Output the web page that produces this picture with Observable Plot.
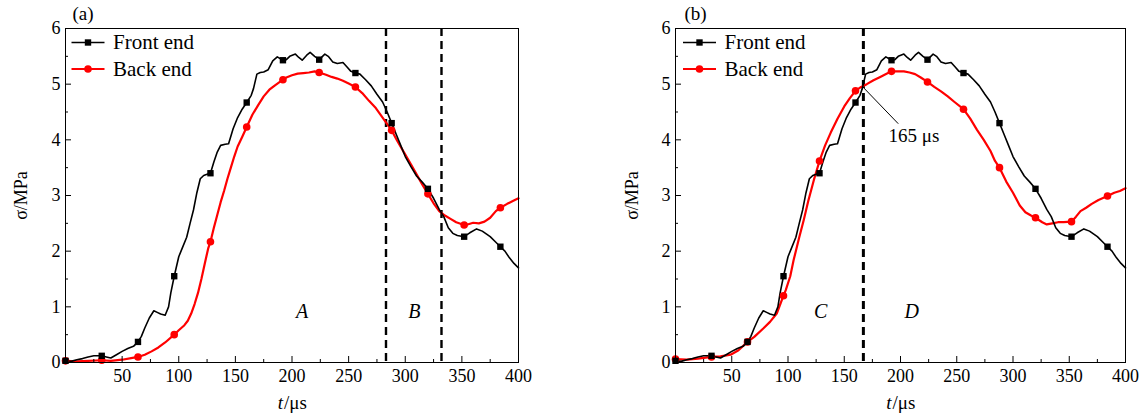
<!DOCTYPE html>
<html><head><meta charset="utf-8">
<script src="https://cdn.jsdelivr.net/npm/d3@7"></script>
<script src="https://cdn.jsdelivr.net/npm/@observablehq/plot@0.6"></script>
<style>
body{margin:0;background:#fff}
#wrap{display:flex;width:1148px;height:414px}
</style>
</head><body><div id="wrap"></div>
<script>
// ---- data: [t (μs), σ (MPa)] ----
const frontEnd = [[0,0.03],[5,0.02],[10,0.05],[15,0.07],[20,0.1],[25,0.12],[32,0.12],[36,0.1],[40,0.08],[45,0.14],[50,0.2],[55,0.25],[60,0.29],[64,0.37],[67,0.47],[70,0.62],[74,0.8],[78,0.93],[81,0.9],[84,0.87],[88,0.85],[91,1.0],[93,1.25],[96,1.55],[100,1.9],[103,2.05],[107,2.25],[110,2.5],[113,2.74],[116,3.05],[119,3.3],[122,3.36],[125,3.38],[128,3.4],[131,3.6],[134,3.78],[137,3.9],[141,3.92],[144,3.93],[148,4.2],[152,4.4],[156,4.55],[160,4.67],[164,4.8],[166,4.92],[169,5.18],[172,5.21],[175,5.22],[179,5.26],[183,5.42],[187,5.49],[192,5.43],[195,5.44],[198,5.5],[203,5.54],[206,5.48],[209,5.43],[213,5.52],[216,5.57],[220,5.5],[224,5.44],[229,5.54],[232,5.5],[236,5.4],[240,5.37],[245,5.39],[249,5.3],[252,5.23],[256,5.2],[260,5.18],[265,5.08],[270,4.97],[275,4.82],[280,4.68],[284,4.5],[288,4.3],[292,4.1],[296,3.9],[300,3.7],[305,3.52],[310,3.35],[315,3.24],[320,3.12],[325,2.95],[330,2.75],[334,2.62],[338,2.42],[342,2.32],[346,2.28],[352,2.26],[357,2.33],[363,2.4],[368,2.36],[375,2.26],[380,2.16],[384,2.08],[388,2.0],[392,1.88],[396,1.78],[400,1.7]];

const backEndA = [[0,0.03],[10,0.02],[20,0.03],[32,0.04],[40,0.03],[50,0.05],[58,0.08],[64,0.1],[70,0.14],[76,0.2],[82,0.27],[88,0.36],[96,0.5],[100,0.58],[105,0.67],[108,0.75],[111,0.88],[114,1.05],[117,1.25],[120,1.5],[123,1.78],[126,2.05],[128,2.17],[131,2.42],[134,2.65],[137,2.88],[140,3.08],[143,3.3],[146,3.5],[149,3.7],[152,3.88],[156,4.05],[160,4.23],[165,4.45],[170,4.62],[175,4.78],[180,4.9],[185,4.98],[192,5.08],[195,5.12],[200,5.16],[205,5.19],[210,5.2],[215,5.21],[220,5.23],[224,5.21],[230,5.17],[235,5.13],[240,5.1],[245,5.06],[250,5.01],[256,4.95],[262,4.84],[268,4.7],[274,4.57],[280,4.4],[288,4.17],[293,3.98],[299,3.77],[305,3.56],[310,3.38],[315,3.2],[320,3.03],[325,2.86],[330,2.72],[335,2.64],[340,2.58],[345,2.52],[352,2.47],[355,2.48],[360,2.51],[365,2.5],[370,2.53],[375,2.6],[380,2.72],[384,2.78],[390,2.85],[395,2.9],[400,2.95]];

const backEndB = [[0,0.06],[10,0.05],[20,0.07],[32,0.1],[40,0.11],[49,0.14],[56,0.22],[64,0.37],[70,0.46],[78,0.61],[84,0.73],[90,0.88],[96,1.2],[98,1.3],[102,1.55],[105,1.84],[110,2.25],[114,2.56],[118,2.9],[123,3.28],[128,3.62],[133,3.9],[138,4.13],[144,4.38],[150,4.6],[155,4.75],[160,4.88],[165,4.95],[170,5.0],[176,5.07],[182,5.13],[188,5.19],[192,5.23],[198,5.23],[203,5.23],[208,5.21],[213,5.18],[218,5.12],[224,5.04],[230,4.95],[236,4.87],[242,4.78],[248,4.68],[256,4.55],[262,4.38],[268,4.18],[274,4.0],[280,3.8],[284,3.62],[288,3.5],[294,3.25],[300,3.05],[306,2.82],[311,2.7],[316,2.64],[320,2.6],[326,2.52],[330,2.48],[335,2.5],[340,2.52],[345,2.52],[352,2.53],[356,2.62],[360,2.72],[365,2.78],[370,2.85],[376,2.92],[384,2.99],[390,3.05],[395,3.08],[400,3.13]];

const markerStep = 32;                 // marker every 32 μs
const xTickLabels = [50,100,150,200,250,300,350,400];
const xMajorTicks = [50,100,150,200,250,300,350];
const xMinorTicks = [25,75,125,175,225,275,325,375];
const yTickLabels = [0,1,2,3,4,5,6];
const yMajorTicks = [1,2,3,4,5];
const yMinorTicks = [0.5,1.5,2.5,3.5,4.5,5.5];
const seriesNames = ["Front end", "Back end"];

const dashesA = [283, 332];
const regionsA = [{t: 209, v: 0.92, label: "A"}, {t: 308, v: 0.92, label: "B"}];
const dashesB = [167];
const regionsB = [{t: 129, v: 0.92, label: "C"}, {t: 210, v: 0.92, label: "D"}];
const annotB = [{t1: 167, v1: 4.94, t2: 198, v2: 4.29, tt: 212, vt: 4.07, label: "165 μs"}];

// ---- drawing ----
const H = 414, MT = 28, MB = 52;
const rows = pairs => pairs.map(([t, v]) => ({t, v}));
const legendLine = {draw(ctx) { ctx.moveTo(-16.5, 0); ctx.lineTo(16.5, 0); }};

function panel(o) {
  const innerW = o.width - o.ml - o.mr, innerH = H - MT - MB;
  const front = rows(frontEnd), back = rows(o.back);
  const isMarker = d => d.t % markerStep === 0;
  return Plot.plot({
    width: o.width, height: H,
    marginLeft: o.ml, marginRight: o.mr, marginTop: MT, marginBottom: MB,
    x: {domain: [0, 400]},
    y: {domain: [0, 6]},
    style: {fontFamily: "'Liberation Serif', 'DejaVu Serif', serif", fontSize: "18px", background: "white", color: "black", overflow: "visible"},
    marks: [
      Plot.ruleX(o.dashes, {stroke: "black", strokeWidth: o.dashW, strokeDasharray: "8,5"}),
      Plot.line(back, {x: "t", y: "v", stroke: "#ff0000", strokeWidth: 2.2}),
      Plot.line(front, {x: "t", y: "v", stroke: "black", strokeWidth: 1.6}),
      Plot.dot(back.filter(isMarker), {x: "t", y: "v", symbol: "circle", r: 3.8, fill: "#ff0000"}),
      Plot.dot(front.filter(isMarker), {x: "t", y: "v", symbol: "square", r: 3.6, fill: "black"}),
      Plot.frame({stroke: "black", strokeWidth: 1}),
      Plot.ruleX(xMajorTicks, {insetTop: innerH - 6, stroke: "black"}),
      Plot.ruleX(xMinorTicks, {insetTop: innerH - 3, stroke: "black"}),
      Plot.ruleY(yMajorTicks, {insetRight: innerW - 6, stroke: "black"}),
      Plot.ruleY(yMinorTicks, {insetRight: innerW - 3, stroke: "black"}),
      Plot.axisX(xTickLabels, {tickSize: 0, tickPadding: 7, fontSize: 18, label: null, tickFormat: d => String(d)}),
      Plot.axisY(yTickLabels, {tickSize: 0, tickPadding: 5, fontSize: 18, label: null, tickFormat: d => String(d)}),
      // axis titles
      Plot.text(["t"], {text: d => d, frameAnchor: "bottom", dy: 40, dx: -9, textAnchor: "end", lineAnchor: "middle", fontStyle: "italic", fontSize: 19}),
      Plot.text(["/μs"], {text: d => d, frameAnchor: "bottom", dy: 40, dx: -8, textAnchor: "start", lineAnchor: "middle", fontSize: 19}),
      Plot.text(["σ/MPa"], {text: d => d, frameAnchor: "left", dx: o.ylabDx, rotate: -90, textAnchor: "middle", lineAnchor: "middle", fontSize: 18}),
      Plot.text([o.tag], {text: d => d, frameAnchor: "top-left", dx: o.tagDx, dy: -15, textAnchor: "start", lineAnchor: "middle", fontSize: 19}),
      // legend
      Plot.dot([0], {frameAnchor: "top-left", dx: o.legDx, dy: 14, symbol: legendLine, stroke: "black", strokeWidth: 1.6, fill: "none"}),
      Plot.dot([0], {frameAnchor: "top-left", dx: o.legDx, dy: 14, symbol: "square", r: 3.6, fill: "black"}),
      Plot.dot([0], {frameAnchor: "top-left", dx: o.legDx, dy: 40.5, symbol: legendLine, stroke: "#ff0000", strokeWidth: 2.2, fill: "none"}),
      Plot.dot([0], {frameAnchor: "top-left", dx: o.legDx, dy: 40.5, symbol: "circle", r: 3.8, fill: "#ff0000"}),
      Plot.text([seriesNames[0]], {text: d => d, frameAnchor: "top-left", dx: o.legDx + 25, dy: 14, textAnchor: "start", lineAnchor: "middle", fontSize: 21}),
      Plot.text([seriesNames[1]], {text: d => d, frameAnchor: "top-left", dx: o.legDx + 25, dy: 40.5, textAnchor: "start", lineAnchor: "middle", fontSize: 21}),
      // region labels & annotation
      Plot.text(o.regions, {x: "t", y: "v", text: "label", fontStyle: "italic", fontSize: 20}),
      Plot.link(o.annot, {x1: "t1", y1: "v1", x2: "t2", y2: "v2", stroke: "black", strokeWidth: 1}),
      Plot.text(o.annot, {x: "tt", y: "vt", text: "label", fontSize: 19})
    ]
  });
}

const wrap = document.getElementById("wrap");
wrap.append(panel({width: 574, ml: 65, mr: 56, back: backEndA, dashes: dashesA, dashW: 2.4, regions: regionsA, annot: [], tag: "(a)", tagDx: 7, legDx: 22.5, ylabDx: -44}));
wrap.append(panel({width: 574, ml: 101, mr: 23, back: backEndB, dashes: dashesB, dashW: 3, regions: regionsB, annot: annotB, tag: "(b)", tagDx: 9, legDx: 24, ylabDx: -43}));
</script>
</body></html>
